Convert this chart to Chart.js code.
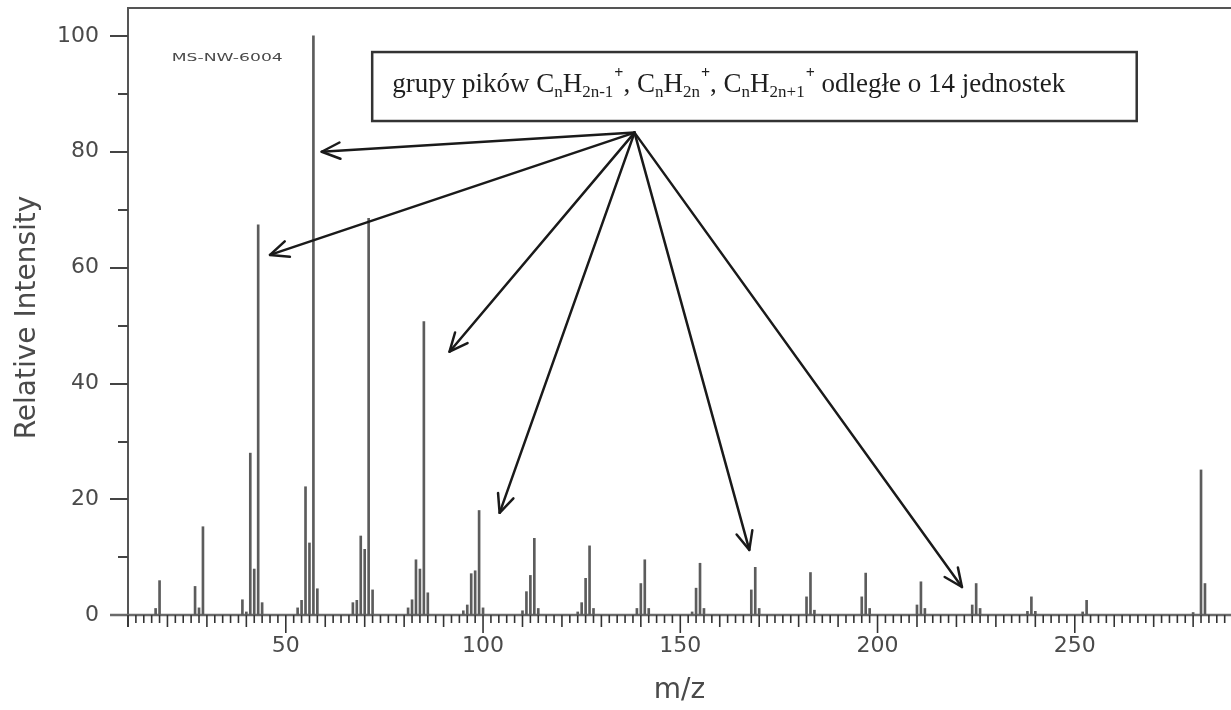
<!DOCTYPE html>
<html><head><meta charset="utf-8">
<script src="https://cdn.jsdelivr.net/npm/chart.js@4/dist/chart.umd.min.js"></script>
<style>html,body{margin:0;padding:0;background:#fff;overflow:hidden}#wrap{width:1231px;height:710px}</style>
</head><body><div id="wrap"><canvas id="c" width="1231" height="710"></canvas></div>
<script>
// ---- data ----
const mzValues = [17,18,27,28,29,39,40,41,42,43,44,53,54,55,56,57,58,67,68,69,70,71,72,81,82,83,84,85,86,95,96,97,98,99,100,110,111,112,113,114,124,125,126,127,128,139,140,141,142,153,154,155,156,168,169,170,182,183,184,196,197,198,210,211,212,224,225,226,238,239,240,252,253,280,282,283];
const intensities = [1.2,6.0,5.0,1.3,15.3,2.7,0.6,28.0,8.0,67.4,2.2,1.3,2.6,22.2,12.5,100,4.6,2.2,2.6,13.7,11.4,68.5,4.4,1.3,2.7,9.6,8.0,50.7,3.9,0.8,1.8,7.2,7.7,18.1,1.3,0.8,4.1,6.9,13.3,1.2,0.6,2.2,6.4,12.0,1.2,1.2,5.5,9.6,1.2,0.6,4.7,9.0,1.2,4.4,8.3,1.2,3.2,7.4,0.9,3.2,7.3,1.2,1.8,5.8,1.2,1.8,5.5,1.2,0.7,3.2,0.7,0.6,2.6,0.5,25.1,5.5];
const xTickValues = [50,100,150,200,250];
const yTickValues = [0,20,40,60,80,100];
const xTitle = 'm/z';
const yTitle = 'Relative Intensity';
const spectrumId = 'MS-NW-6004';
const annotationParts = [
  ['grupy pików C',''],['n','sub'],['H',''],['2n-1','sub'],['+','sup'],
  [', C',''],['n','sub'],['H',''],['2n','sub'],['+','sup'],
  [', C',''],['n','sub'],['H',''],['2n+1','sub'],['+','sup'],
  [' odległe o 14 jednostek','']
];
// annotation anchors in data units (m/z, intensity)
const annotationBox = {mz0:71.9, mz1:265.7, top:97.2, bottom:85.3};
const arrowOrigin = {mz:138.4, val:83.3};
const arrowTargets = [
  {mz:59.1, val:80.0},{mz:46.0, val:62.2},{mz:91.5, val:45.5},
  {mz:104.2, val:17.7},{mz:167.5, val:11.3},{mz:221.4, val:4.9}
];
const idAnchor = {mz:21.1, val:96.2};

const points = mzValues.map((m,i)=>({x:m, y:intensities[i]}));

function line(ctx,x1,y1,x2,y2){ctx.beginPath();ctx.moveTo(x1,y1);ctx.lineTo(x2,y2);ctx.stroke();}

const decor = {
  id:'decor',
  beforeDatasetsDraw(chart){
    const {ctx, chartArea:a, scales:{x,y}} = chart;
    ctx.save();
    ctx.lineCap='butt';
    // frame (left + top)
    ctx.strokeStyle='#555'; ctx.lineWidth=2;
    ctx.beginPath(); ctx.moveTo(a.left, a.bottom); ctx.lineTo(a.left, a.top); ctx.lineTo(a.right, a.top); ctx.stroke();
    // y ticks
    ctx.strokeStyle='#444';
    for (let v=0; v<=100; v+=10){
      const py = Math.round(y.getPixelForValue(v));
      const len = v%20===0 ? 18 : 10;
      line(ctx, a.left-len, py, a.left, py);
    }
    // baseline
    const y0 = Math.round(y.getPixelForValue(0));
    ctx.strokeStyle='#6a6a6a'; ctx.lineWidth=2.5;
    line(ctx, a.left-18, y0, a.right, y0);
    // x ticks
    ctx.strokeStyle='#333'; ctx.lineWidth=1.6;
    for (let m=10; m<=x.max; m+=2){
      const px = x.getPixelForValue(m);
      const len = m%50===0 ? 18 : (m%10===0 ? 12 : 8);
      line(ctx, px, y0, px, y0+len);
    }
    ctx.restore();
  },
  afterDatasetsDraw(chart){
    const {ctx, scales:{x,y}} = chart;
    ctx.save();
    // spectrum id (wide, small lettering)
    const ix = x.getPixelForValue(idAnchor.mz), iy = y.getPixelForValue(idAnchor.val);
    ctx.save();
    ctx.fillStyle='#4a4a4a';
    ctx.font='11px "DejaVu Sans"';
    ctx.textBaseline='middle'; ctx.textAlign='left';
    const w = ctx.measureText(spectrumId).width;
    ctx.translate(ix, iy); ctx.scale(111 / w, 1);
    ctx.fillText(spectrumId, 0, 0);
    ctx.restore();

    // box
    const bx0 = x.getPixelForValue(annotationBox.mz0), bx1 = x.getPixelForValue(annotationBox.mz1);
    const by0 = y.getPixelForValue(annotationBox.top), by1 = y.getPixelForValue(annotationBox.bottom);
    ctx.fillStyle='#fff'; ctx.fillRect(bx0,by0,bx1-bx0,by1-by0);
    ctx.strokeStyle='#333'; ctx.lineWidth=2.5;
    ctx.strokeRect(bx0,by0,bx1-bx0,by1-by0);
    // text
    let tx = bx0 + 20; const base = (by0+by1)/2 + 5;
    ctx.fillStyle='#1e1e1e'; ctx.textBaseline='alphabetic'; ctx.textAlign='left';
    for (const [t,mode] of annotationParts){
      let dy=0;
      if (mode==='sub'){ ctx.font='17px "Liberation Serif"'; dy=5; }
      else if (mode==='sup'){ ctx.font='bold 16px "Liberation Serif"'; dy=-14; tx+=1; }
      else { ctx.font='27px "Liberation Serif"'; }
      ctx.fillText(t, tx, base+dy);
      tx += ctx.measureText(t).width;
    }

    // arrows
    const ox = x.getPixelForValue(arrowOrigin.mz), oy = y.getPixelForValue(arrowOrigin.val);
    ctx.strokeStyle='#1a1a1a'; ctx.lineWidth=2.5; ctx.lineCap='round'; ctx.lineJoin='round';
    for (const t of arrowTargets){
      const tx2 = x.getPixelForValue(t.mz), ty2 = y.getPixelForValue(t.val);
      line(ctx, ox, oy, tx2, ty2);
      const ang = Math.atan2(ty2-oy, tx2-ox);
      const L=20, h=0.42;
      ctx.beginPath();
      ctx.moveTo(tx2 - L*Math.cos(ang-h), ty2 - L*Math.sin(ang-h));
      ctx.lineTo(tx2, ty2);
      ctx.lineTo(tx2 - L*Math.cos(ang+h), ty2 - L*Math.sin(ang+h));
      ctx.stroke();
    }
    ctx.restore();
  }
};

new Chart(document.getElementById('c'), {
  type:'bar',
  data:{ datasets:[{ data:points, backgroundColor:'#5c5c5c', borderWidth:0, barThickness:2 }] },
  options:{
    responsive:false, animation:false, devicePixelRatio:1,
    layout:{ padding:{ top:8, left:0, right:0, bottom:0 } },
    plugins:{ legend:{display:false}, tooltip:{enabled:false} },
    scales:{
      x:{
        type:'linear', min:10, max:289.6, offset:false,
        grid:{ display:false, drawTicks:false, offset:false }, border:{ display:false },
        afterBuildTicks(s){ s.ticks = xTickValues.map(v=>({value:v})); },
        afterFit(s){ s.height = 83; },
        ticks:{ padding:8, font:{ family:'DejaVu Sans', size:22, lineHeight:1.0 }, color:'#4a4a4a', maxRotation:0, autoSkip:false },
        title:{ display:true, text:xTitle, font:{ family:'DejaVu Sans', size:28 }, color:'#4a4a4a', padding:{top:4,bottom:2} }
      },
      y:{
        type:'linear', min:-2, max:104.8,
        grid:{ display:true, drawOnChartArea:false, drawTicks:true, tickLength:29, tickColor:'rgba(0,0,0,0)' }, border:{ display:false },
        afterBuildTicks(s){ s.ticks = yTickValues.map(v=>({value:v})); },
        afterFit(s){ s.width = 128; },
        ticks:{ padding:0, font:{ family:'DejaVu Sans', size:22, lineHeight:0.6 }, color:'#4a4a4a', autoSkip:false },
        title:{ display:true, text:yTitle, font:{ family:'DejaVu Sans', size:28 }, color:'#4a4a4a', padding:{top:11,bottom:0} }
      }
    }
  },
  plugins:[decor]
});
</script>
</body></html>
